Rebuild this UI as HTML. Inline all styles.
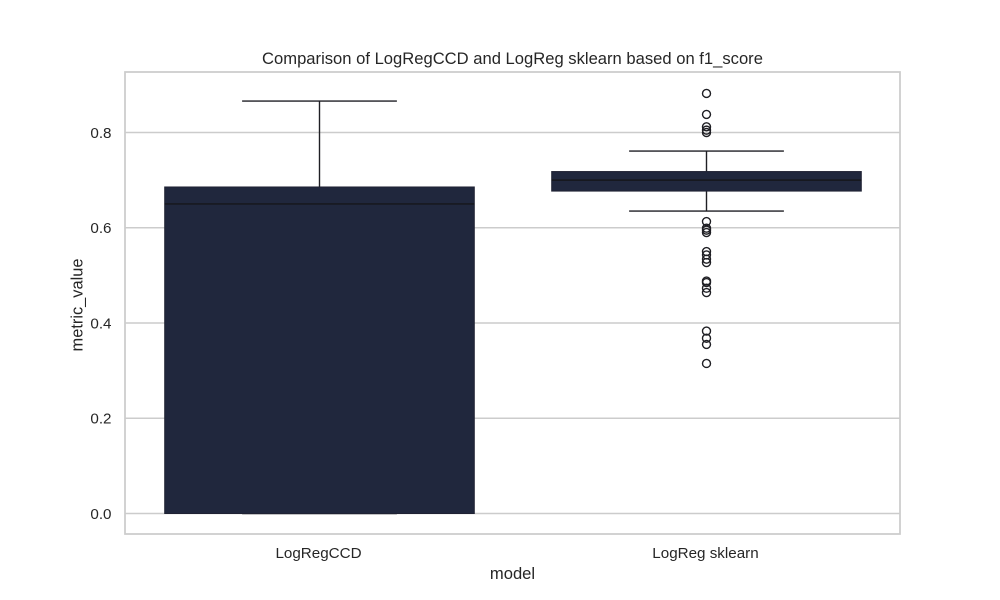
<!DOCTYPE html>
<html lang="en">
<head>
<meta charset="utf-8">
<title>Comparison of LogRegCCD and LogReg sklearn based on f1_score</title>
<style>
html,body{margin:0;padding:0;background:#fff;}
svg{display:block;}
text{font-family:"Liberation Sans",Arial,sans-serif;fill:#262626;}
</style>
</head>
<body>
<svg id="chart" xmlns="http://www.w3.org/2000/svg" width="1000" height="600" viewBox="0 0 1000 600">
  <rect x="0" y="0" width="1000" height="600" fill="#ffffff"/>
  <g id="grid"></g>
  <g id="boxes"></g>
  <rect x="125" y="72" width="775" height="462" fill="none" stroke="#cccccc" stroke-width="1.74"/>
  <g id="yticks"></g>
  <g id="xticks"></g>
  <text x="512.5" y="64" font-size="16.6" text-anchor="middle">Comparison of LogRegCCD and LogReg sklearn based on f1_score</text>
  <text x="512.5" y="579" font-size="16.6" text-anchor="middle">model</text>
  <text x="0" y="0" font-size="16.4" text-anchor="middle" transform="translate(82.5 305) rotate(-90)">metric_value</text>
</svg>
<script>
const categories = ['LogRegCCD', 'LogReg sklearn'];
const q1Values = [0, 0.677];
const medianValues = [0.65, 0.70];
const q3Values = [0.6856, 0.718];
const whiskerLow = [0, 0.635];
const whiskerHigh = [0.866, 0.761];
const outliersSklearn = [0.882, 0.838, 0.812, 0.805, 0.800, 0.613, 0.599, 0.595, 0.590, 0.550, 0.543, 0.534, 0.527, 0.488, 0.485, 0.473, 0.464, 0.383, 0.368, 0.355, 0.315];
const outliersCCD = [];
const yTickValues = [0, 0.2, 0.4, 0.6, 0.8];
const yTickLabels = ['0.0', '0.2', '0.4', '0.6', '0.8'];

const NS = 'http://www.w3.org/2000/svg';
const plotLeft = 125, plotRight = 900;
const bandLeft = 126;
function yScale(v) { return 513.5 - v * 476.25; }
function xScale(i) { return bandLeft + (plotRight - bandLeft) * (i + 0.5) / categories.length; }
const bandWidth = (plotRight - bandLeft) / categories.length;
const boxWidth = bandWidth * 0.8;
const capWidth = bandWidth * 0.4;
const lineColor = '#1f1f24';

function mk(tag, attrs, parent) {
  const el = document.createElementNS(NS, tag);
  for (const k in attrs) el.setAttribute(k, attrs[k]);
  parent.appendChild(el);
  return el;
}

const gridG = document.getElementById('grid');
const yG = document.getElementById('yticks');
yTickValues.forEach(function (v, i) {
  const line = mk('line', {x1: plotLeft, x2: plotRight, y1: yScale(v), y2: yScale(v), stroke: '#cccccc', 'stroke-width': 1.5}, gridG);
  
  
  const t = mk('text', {x: 111.5, y: yScale(v) + 5.3, 'font-size': 15.2, 'text-anchor': 'end'}, yG);
  t.textContent = yTickLabels[i];
  
  
});

const xG = document.getElementById('xticks');
const boxG = document.getElementById('boxes');
const outlierSets = [outliersCCD, outliersSklearn];
categories.forEach(function (c, i) {
  const cx = xScale(i);
  const t = mk('text', {x: cx - 1, y: 558, 'font-size': 15.2, 'text-anchor': 'middle'}, xG);
  t.textContent = c;
  
  

  const lineAttrs = {stroke: lineColor, 'stroke-width': 1.4};
  const w1 = mk('line', Object.assign({x1: cx, x2: cx, y1: yScale(q3Values[i]), y2: yScale(whiskerHigh[i])}, lineAttrs), boxG);
  
  
  const w2 = mk('line', Object.assign({x1: cx, x2: cx, y1: yScale(q1Values[i]), y2: yScale(whiskerLow[i])}, lineAttrs), boxG);
  
  
  const c1 = mk('line', Object.assign({x1: cx - capWidth / 2, x2: cx + capWidth / 2, y1: yScale(whiskerHigh[i]), y2: yScale(whiskerHigh[i])}, lineAttrs), boxG);
  
  
  const c2 = mk('line', Object.assign({x1: cx - capWidth / 2, x2: cx + capWidth / 2, y1: yScale(whiskerLow[i]), y2: yScale(whiskerLow[i])}, lineAttrs), boxG);
  
  

  const box = mk('rect', {x: cx - boxWidth / 2, y: yScale(q3Values[i]), width: boxWidth, height: yScale(q1Values[i]) - yScale(q3Values[i]), fill: '#20273d', stroke: '#1f2233', 'stroke-width': 1}, boxG);
  
  
  const med = mk('line', {x1: cx - boxWidth / 2, x2: cx + boxWidth / 2, y1: yScale(medianValues[i]), y2: yScale(medianValues[i]), stroke: '#15161b', 'stroke-width': 1.4}, boxG);
  
  

  outlierSets[i].forEach(function (v, j) {
    const p = mk('circle', {cx: cx, cy: yScale(v), r: 4, fill: 'none', stroke: lineColor, 'stroke-width': 1.4}, boxG);
    
    
  });
});
</script>
</body>
</html>
